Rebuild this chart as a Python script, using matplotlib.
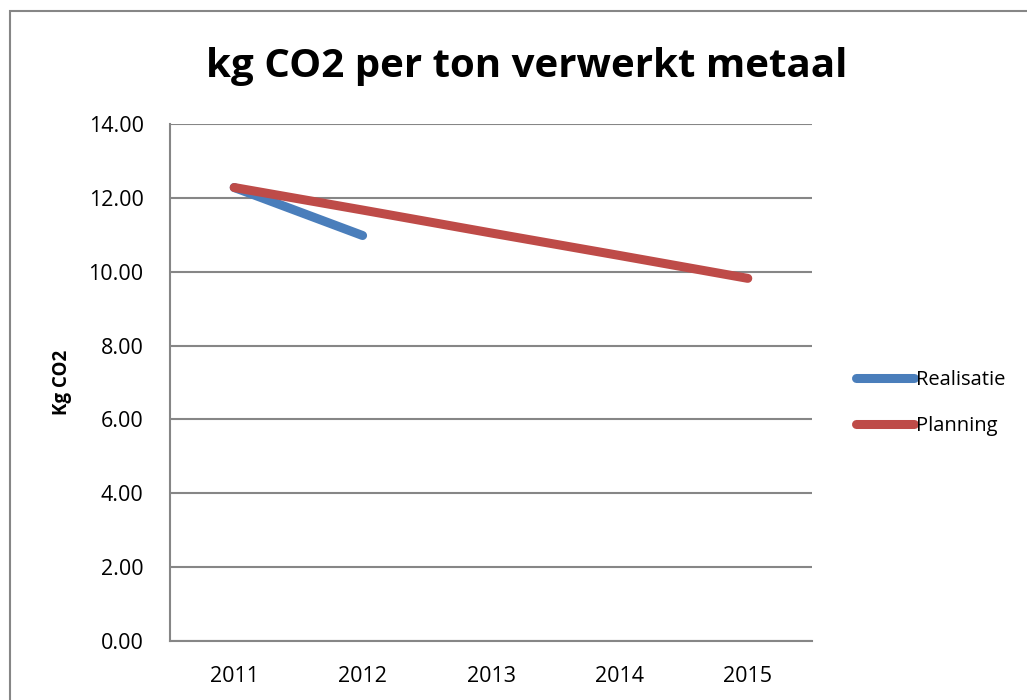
import matplotlib.pyplot as plt
from matplotlib.patches import Rectangle

years = ["2011", "2012", "2013", "2014", "2015"]
realisatie = [12.28, 10.98]
planning = [12.28, 11.67, 11.05, 10.44, 9.82]

GRID = "#868686"

fig = plt.figure(figsize=(10.27, 7), dpi=100)
plt.rcParams["font.family"] = ["Open Sans", "DejaVu Sans"]

# outer chart border
fig.patches.append(Rectangle((10 / 1027, -0.01), 1.1, 1 - 11 / 700 + 0.01,
                             transform=fig.transFigure, fill=False,
                             edgecolor=GRID, linewidth=1.5))

ax = fig.add_axes([170 / 1027, 1 - 641 / 700, 642 / 1027, 517 / 700])

x = list(range(len(years)))
ax.plot(x[:len(realisatie)], realisatie, color="#4A7EBB", linewidth=6.5,
        solid_capstyle="round", label="Realisatie", zorder=3)
ax.plot(x, planning, color="#BE4B48", linewidth=6.5,
        solid_capstyle="round", label="Planning", zorder=4)

ax.set_xlim(-0.5, 4.5)
ax.set_ylim(0, 14)
ax.set_yticks(range(0, 15, 2))
ax.set_yticklabels([f"{v:.2f}" for v in range(0, 15, 2)], fontsize=15.5)
ax.set_xticks(x)
ax.set_xticklabels(years, fontsize=15.5)
ax.tick_params(length=0)
ax.tick_params(axis="x", pad=18)
ax.tick_params(axis="y", pad=19)
ax.grid(axis="y", color=GRID, linewidth=1.5)
ax.set_axisbelow(True)
for side in ["top", "right"]:
    ax.spines[side].set_visible(False)
for side in ["left", "bottom"]:
    ax.spines[side].set_color(GRID)
    ax.spines[side].set_linewidth(1.5)

ax.set_ylabel("Kg CO2", fontsize=13.5, fontweight="bold", labelpad=12)

fig.text(527 / 1027, 1 - 66 / 700, "kg CO2 per ton verwerkt metaal",
         ha="center", va="center", fontsize=29, fontweight="bold")

ax.legend(loc="center left", bbox_to_anchor=(1.04, 0.46), frameon=False,
          fontsize=14.5, handlelength=2.9, handletextpad=0.1, labelspacing=1.3)

fig.savefig("out.png", dpi=100)
